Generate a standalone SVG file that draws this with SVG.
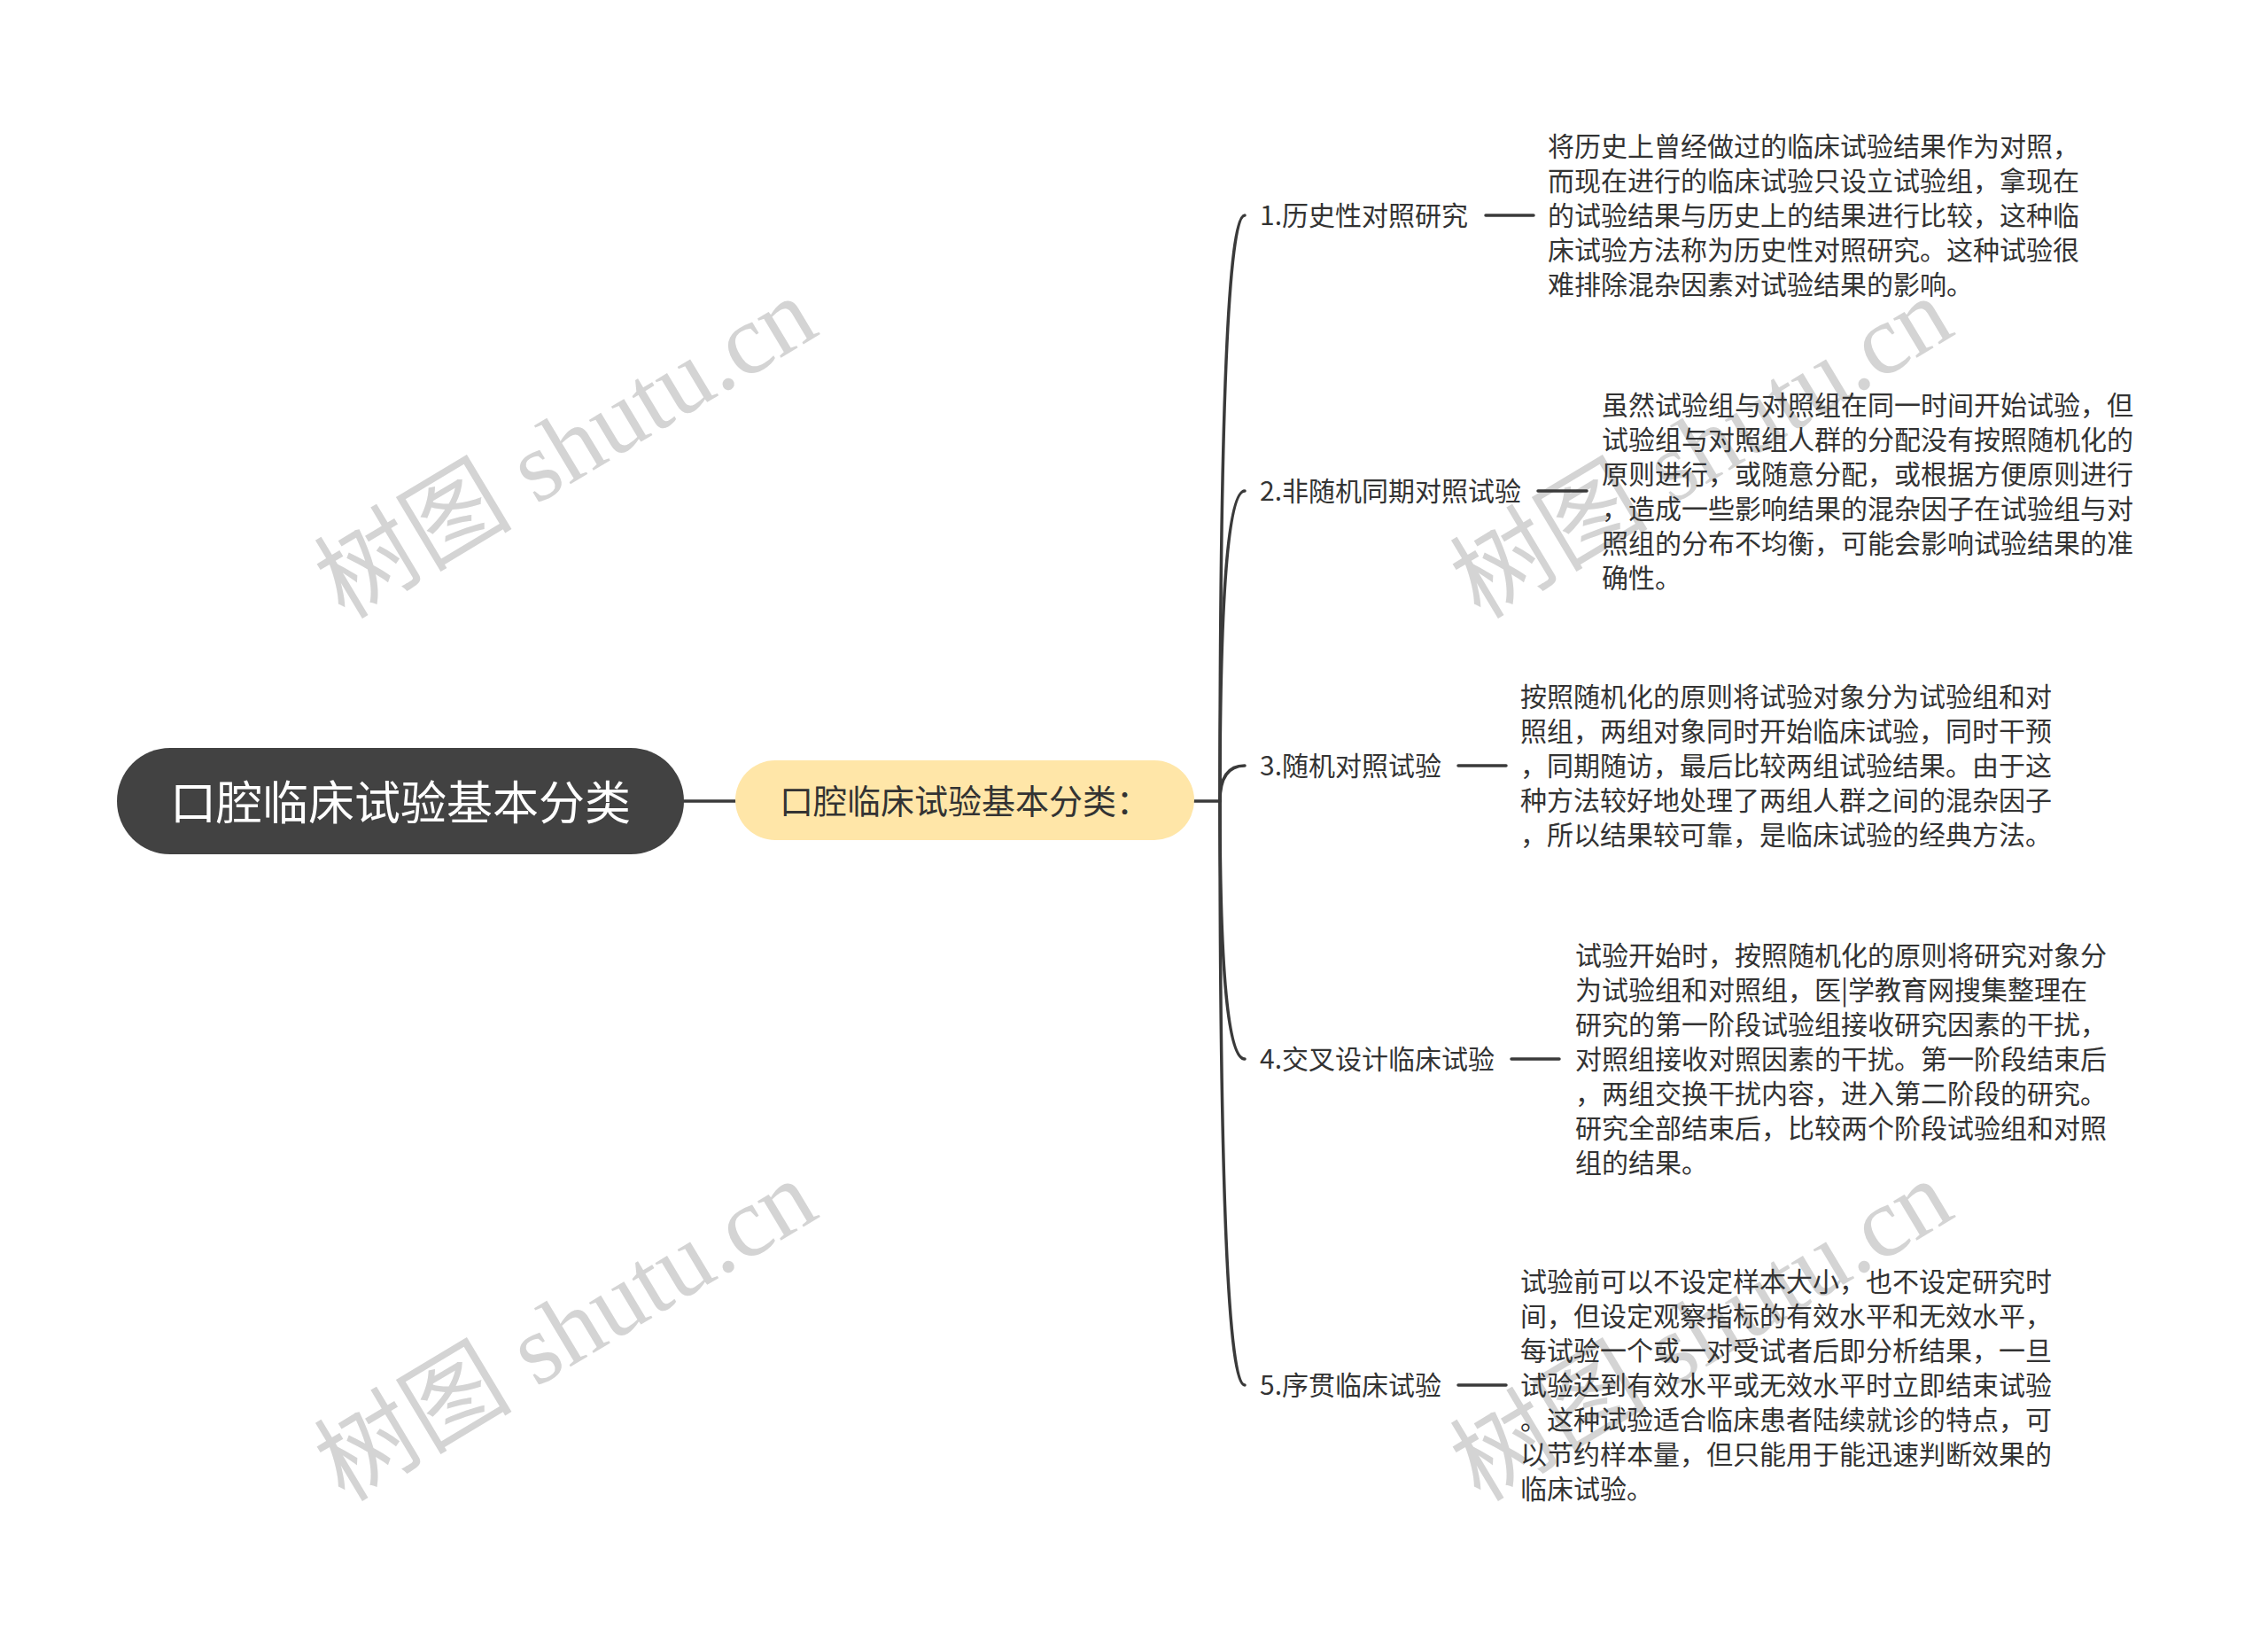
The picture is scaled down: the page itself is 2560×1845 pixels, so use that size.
<svg xmlns="http://www.w3.org/2000/svg" width="2560" height="1845" viewBox="0 0 2560 1845">
<style>
.wm{font-family:"Liberation Serif","Noto Sans CJK SC",serif;font-size:112px;fill:#d4d4d4;}
.conn{fill:none;stroke:#3a3a3a;stroke-width:3.5;stroke-linecap:round;}
.lbl{font-family:"Noto Sans CJK SC","Noto Sans",sans-serif;font-size:30px;fill:#333333;dominant-baseline:central;}
.txt{font-family:"Noto Sans CJK SC","Noto Sans",sans-serif;font-size:30px;fill:#333333;dominant-baseline:central;}
</style>
<rect width="2560" height="1845" fill="#ffffff"/>
<g id="watermarks">
<text class="wm" x="658" y="538" text-anchor="middle" transform="rotate(-31 658 538)">树图 shutu.cn</text>
<text class="wm" x="1940" y="538" text-anchor="middle" transform="rotate(-31 1940 538)">树图 shutu.cn</text>
<text class="wm" x="658" y="1534" text-anchor="middle" transform="rotate(-31 658 1534)">树图 shutu.cn</text>
<text class="wm" x="1940" y="1534" text-anchor="middle" transform="rotate(-31 1940 1534)">树图 shutu.cn</text>
</g>
<g id="connectors">
<path class="conn" d="M771 904 L830 904"/>
<path class="conn" d="M1348 904 L1377 904"/>
<path class="conn" d="M1377 904 Q1377 243 1405 243"/>
<path class="conn" d="M1377 904 Q1377 554 1405 554"/>
<path class="conn" d="M1377 904 Q1377 864 1405 864"/>
<path class="conn" d="M1377 904 Q1377 1195 1405 1195"/>
<path class="conn" d="M1377 904 Q1377 1563 1405 1563"/>
<path class="conn" d="M1677 243 L1731 243"/>
<path class="conn" d="M1736 554 L1791 554"/>
<path class="conn" d="M1646 864 L1700 864"/>
<path class="conn" d="M1706 1195 L1760 1195"/>
<path class="conn" d="M1646 1563 L1700 1563"/>
</g>
<g id="root">
<rect x="132" y="844" width="640" height="120" rx="60" ry="60" fill="#424242"/>
<text x="452" y="902" text-anchor="middle" dominant-baseline="central" font-family="'Noto Sans CJK SC','Noto Sans',sans-serif" font-size="52" fill="#ffffff">口腔临床试验基本分类</text>
</g>
<g id="sub">
<rect x="830" y="858" width="518" height="90" rx="45" ry="45" fill="#ffe6a8"/>
<text x="1089" y="901" text-anchor="middle" dominant-baseline="central" font-family="'Noto Sans CJK SC','Noto Sans',sans-serif" font-size="38" fill="#333333">口腔临床试验基本分类：</text>
</g>
<g id="branch1">
<text class="lbl" x="1422" y="241">1.历史性对照研究</text>
</g>
<g id="detail1">
<text class="txt" x="1747" y="163">将历史上曾经做过的临床试验结果作为对照，</text>
<text class="txt" x="1747" y="202">而现在进行的临床试验只设立试验组，拿现在</text>
<text class="txt" x="1747" y="241">的试验结果与历史上的结果进行比较，这种临</text>
<text class="txt" x="1747" y="280">床试验方法称为历史性对照研究。这种试验很</text>
<text class="txt" x="1747" y="319">难排除混杂因素对试验结果的影响。</text>
</g>
<g id="branch2">
<text class="lbl" x="1422" y="552">2.非随机同期对照试验</text>
</g>
<g id="detail2">
<text class="txt" x="1808" y="455">虽然试验组与对照组在同一时间开始试验，但</text>
<text class="txt" x="1808" y="494">试验组与对照组人群的分配没有按照随机化的</text>
<text class="txt" x="1808" y="533">原则进行，或随意分配，或根据方便原则进行</text>
<text class="txt" x="1808" y="572">，造成一些影响结果的混杂因子在试验组与对</text>
<text class="txt" x="1808" y="611">照组的分布不均衡，可能会影响试验结果的准</text>
<text class="txt" x="1808" y="650">确性。</text>
</g>
<g id="branch3">
<text class="lbl" x="1422" y="862">3.随机对照试验</text>
</g>
<g id="detail3">
<text class="txt" x="1716" y="784">按照随机化的原则将试验对象分为试验组和对</text>
<text class="txt" x="1716" y="823">照组，两组对象同时开始临床试验，同时干预</text>
<text class="txt" x="1716" y="862">，同期随访，最后比较两组试验结果。由于这</text>
<text class="txt" x="1716" y="901">种方法较好地处理了两组人群之间的混杂因子</text>
<text class="txt" x="1716" y="940">，所以结果较可靠，是临床试验的经典方法。</text>
</g>
<g id="branch4">
<text class="lbl" x="1422" y="1193">4.交叉设计临床试验</text>
</g>
<g id="detail4">
<text class="txt" x="1778" y="1076">试验开始时，按照随机化的原则将研究对象分</text>
<text class="txt" x="1778" y="1115">为试验组和对照组，医|学教育网搜集整理在</text>
<text class="txt" x="1778" y="1154">研究的第一阶段试验组接收研究因素的干扰，</text>
<text class="txt" x="1778" y="1193">对照组接收对照因素的干扰。第一阶段结束后</text>
<text class="txt" x="1778" y="1232">，两组交换干扰内容，进入第二阶段的研究。</text>
<text class="txt" x="1778" y="1271">研究全部结束后，比较两个阶段试验组和对照</text>
<text class="txt" x="1778" y="1310">组的结果。</text>
</g>
<g id="branch5">
<text class="lbl" x="1422" y="1561">5.序贯临床试验</text>
</g>
<g id="detail5">
<text class="txt" x="1716" y="1444">试验前可以不设定样本大小，也不设定研究时</text>
<text class="txt" x="1716" y="1483">间，但设定观察指标的有效水平和无效水平，</text>
<text class="txt" x="1716" y="1522">每试验一个或一对受试者后即分析结果，一旦</text>
<text class="txt" x="1716" y="1561">试验达到有效水平或无效水平时立即结束试验</text>
<text class="txt" x="1716" y="1600">。这种试验适合临床患者陆续就诊的特点，可</text>
<text class="txt" x="1716" y="1639">以节约样本量，但只能用于能迅速判断效果的</text>
<text class="txt" x="1716" y="1678">临床试验。</text>
</g>
</svg>
